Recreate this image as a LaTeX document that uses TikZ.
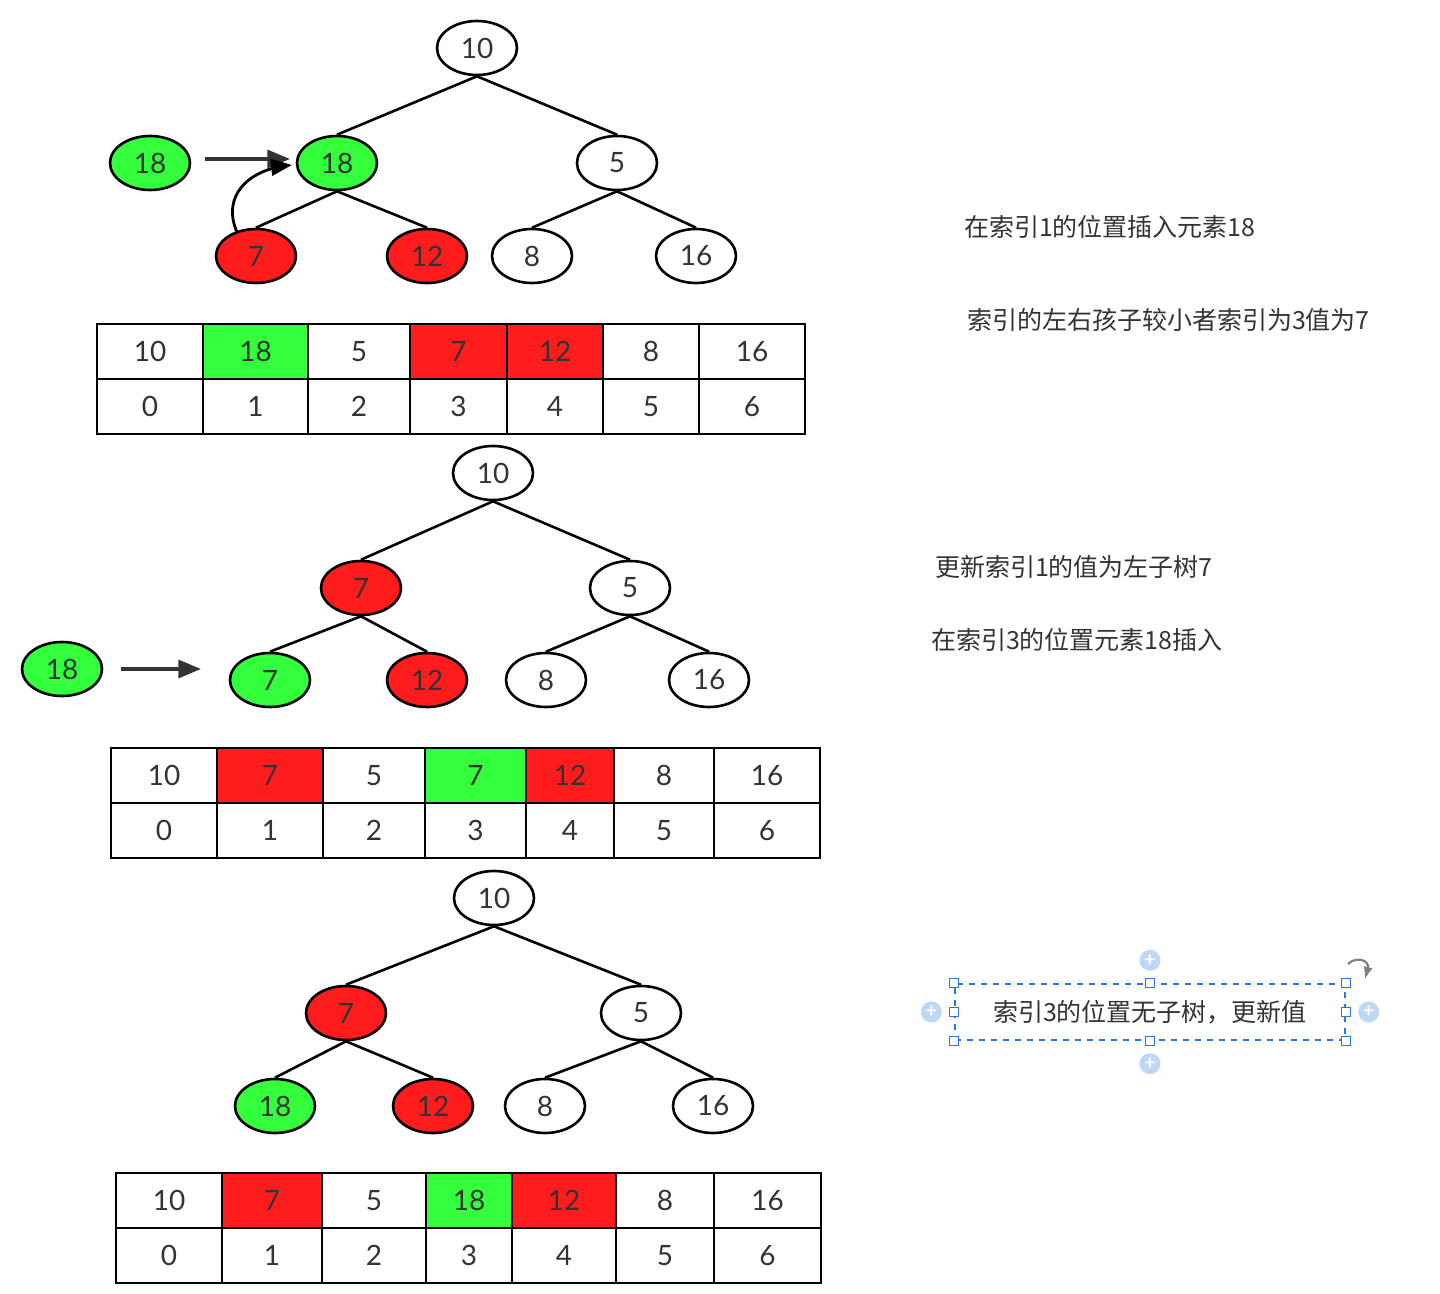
\documentclass[tikz,border=0pt]{standalone}
\usepackage{fontspec}
\setmainfont{Lato}
\newfontfamily\cjk{Noto Sans CJK SC}
\usetikzlibrary{arrows}
\usetikzlibrary{shapes.geometric}
\definecolor{leafgreen}{RGB}{51,255,60}
\definecolor{hotred}{RGB}{255,28,28}
\definecolor{inkgray}{RGB}{51,51,51}
\definecolor{selblue}{RGB}{40,120,225}
\definecolor{plusblue}{RGB}{190,215,245}

\begin{document}
\begin{tikzpicture}[x=0.5pt, y=-0.5pt,
    key/.style={ellipse, draw, line width=1.3pt, fill=white, text=inkgray,
                minimum width=40pt, minimum height=27pt, inner sep=0pt,
                font=\fontsize{14}{16}\selectfont},
    grn/.style={key, fill=leafgreen},
    rd/.style={key, fill=hotred},
    cell/.style={rectangle, draw, line width=1.3pt, fill=white, text=inkgray,
                 minimum height=27.5pt, inner sep=0pt,
                 font=\fontsize{14}{16}\selectfont},
    edge/.style={line width=1.3pt},
    push/.style={-triangle 45, line width=1.6pt, inkgray},
    note/.style={anchor=west, text=inkgray, font=\cjk\fontsize{12.5}{15}\selectfont},
    handle/.style={rectangle, draw=selblue, fill=white, line width=0.6pt,
                   minimum size=4.5pt, inner sep=0pt},
    plus/.style={circle, fill=plusblue, text=white, minimum size=10.5pt, inner sep=0pt,
                 font=\bfseries\fontsize{10}{10}\selectfont}]

  \useasboundingbox (0,0) rectangle (1440,1294);

  % step 1: insert 18 at index 1
  \node[key] (top1) at (477,48) {10};
  \node[grn] (midl1) at (337,163) {18};
  \node[key] (midr1) at (617,163) {5};
  \node[rd] (bot11) at (256,256) {7};
  \node[rd] (bot12) at (427,256) {12};
  \node[key] (bot13) at (532,256) {8};
  \node[key] (bot14) at (696,256) {16};
  \node[grn] (free1) at (150,163) {18};

  \draw[edge] (top1.south) -- (midl1.north);
  \draw[edge] (top1.south) -- (midr1.north);
  \draw[edge] (midl1.south) -- (bot11.north);
  \draw[edge] (midl1.south) -- (bot12.north);
  \draw[edge] (midr1.south) -- (bot13.north);
  \draw[edge] (midr1.south) -- (bot14.north);

  \draw[push] ([xshift=7pt,yshift=2pt]free1.east) -- ([xshift=-3pt,yshift=2pt]midl1.west);
  \draw[line width=1.4pt, -triangle 45, black] (bot11.128) .. controls (222,196) and (248,170) .. ([xshift=-2pt,yshift=-1pt]midl1.west);

  \foreach \xa/\xb/\v/\c [count=\i] in {97/203/10/white, 203/308/18/leafgreen,
      308/410/5/white, 410/507/7/hotred, 507/603/12/hotred, 603/699/8/white, 699/805/16/white}
    \node[cell, fill=\c, minimum width={(\xb-\xa)*0.5pt}] (val1\i) at ({(\xa+\xb)/2},351.5) {\v};
  \foreach \xa/\xb [count=\i from 0] in {97/203, 203/308, 308/410, 410/507, 507/603, 603/699, 699/805}
    \node[cell, minimum width={(\xb-\xa)*0.5pt}] (idx1\i) at ({(\xa+\xb)/2},406.5) {\i};

  \node[note] (note1) at (957,227) {在索引1的位置插入元素18};
  \node[note] (note2) at (960,320) {索引的左右孩子较小者索引为3值为7};

  % step 2: move 7 up, 18 goes to index 3
  \node[key] (top2) at (493,473) {10};
  \node[rd] (midl2) at (361,588) {7};
  \node[key] (midr2) at (630,588) {5};
  \node[grn] (bot21) at (270,680) {7};
  \node[rd] (bot22) at (427,680) {12};
  \node[key] (bot23) at (546,680) {8};
  \node[key] (bot24) at (709,680) {16};
  \node[grn] (free2) at (62,669) {18};

  \draw[edge] (top2.south) -- (midl2.north);
  \draw[edge] (top2.south) -- (midr2.north);
  \draw[edge] (midl2.south) -- (bot21.north);
  \draw[edge] (midl2.south) -- (bot22.north);
  \draw[edge] (midr2.south) -- (bot23.north);
  \draw[edge] (midr2.south) -- (bot24.north);

  \draw[push] ([xshift=9pt]free2.east) -- ([xshift=-14pt]bot21.west |- free2.east);

  \foreach \xa/\xb/\v/\c [count=\i] in {111/217/10/white, 217/323/7/hotred,
      323/425/5/white, 425/526/7/leafgreen, 526/614/12/hotred, 614/714/8/white, 714/820/16/white}
    \node[cell, fill=\c, minimum width={(\xb-\xa)*0.5pt}] (val2\i) at ({(\xa+\xb)/2},775.5) {\v};
  \foreach \xa/\xb [count=\i from 0] in {111/217, 217/323, 323/425, 425/526, 526/614, 614/714, 714/820}
    \node[cell, minimum width={(\xb-\xa)*0.5pt}] (idx2\i) at ({(\xa+\xb)/2},830.5) {\i};

  \node[note] (note3) at (928,567) {更新索引1的值为左子树7};
  \node[note] (note4) at (924,640) {在索引3的位置元素18插入};

  % step 3: 18 settles at index 3
  \node[key] (top3) at (494,898) {10};
  \node[rd] (midl3) at (346,1013) {7};
  \node[key] (midr3) at (641,1013) {5};
  \node[grn] (bot31) at (275,1106) {18};
  \node[rd] (bot32) at (433,1106) {12};
  \node[key] (bot33) at (545,1106) {8};
  \node[key] (bot34) at (713,1106) {16};

  \draw[edge] (top3.south) -- (midl3.north);
  \draw[edge] (top3.south) -- (midr3.north);
  \draw[edge] (midl3.south) -- (bot31.north);
  \draw[edge] (midl3.south) -- (bot32.north);
  \draw[edge] (midr3.south) -- (bot33.north);
  \draw[edge] (midr3.south) -- (bot34.north);

  \foreach \xa/\xb/\v/\c [count=\i] in {116/222/10/white, 222/322/7/hotred,
      322/426/5/white, 426/512/18/leafgreen, 512/616/12/hotred, 616/714/8/white, 714/821/16/white}
    \node[cell, fill=\c, minimum width={(\xb-\xa)*0.5pt}] (val3\i) at ({(\xa+\xb)/2},1200.5) {\v};
  \foreach \xa/\xb [count=\i from 0] in {116/222, 222/322, 322/426, 426/512, 512/616, 616/714, 714/821}
    \node[cell, minimum width={(\xb-\xa)*0.5pt}] (idx3\i) at ({(\xa+\xb)/2},1255.5) {\i};

  % selected text box
  \node[draw=selblue, dashed, line width=0.7pt, minimum width=195pt, minimum height=28pt,
        inner sep=0pt, text=inkgray, font=\cjk\fontsize{12.5}{15}\selectfont] (note5) at (1150,1012)
        {索引3的位置无子树，更新值};
  \foreach \a in {north west, north, north east, west, east, south west, south, south east}
    \node[handle] (h-\a) at (note5.\a) {};
  \node[plus] (plusn) at ([yshift=11.5pt]note5.north) {+};
  \node[plus] (pluss) at ([yshift=-11.5pt]note5.south) {+};
  \node[plus] (plusw) at ([xshift=-11.5pt]note5.west) {+};
  \node[plus] (pluse) at ([xshift=11.5pt]note5.east) {+};
  \coordinate (rot) at (1358,970);
  \draw[-latex, line width=1.1pt, gray] ([shift={(-10,-6)}]rot) .. controls ([shift={(-2,-14)}]rot) and ([shift={(12,-10)}]rot) .. ([shift={(7,9)}]rot);
\end{tikzpicture}
\end{document}
